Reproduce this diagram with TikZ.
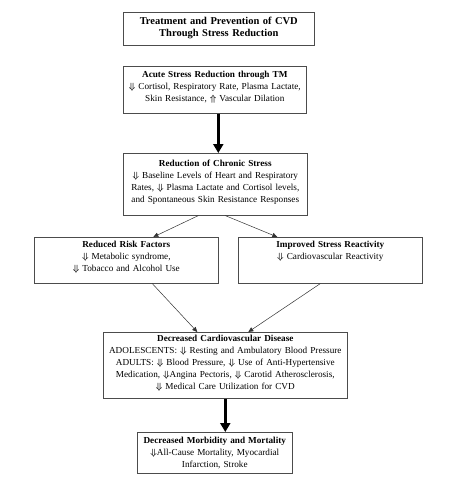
\documentclass[tikz,border=0pt]{standalone}
\usepackage{fontspec}
\setmainfont{Liberation Serif}
\usepackage{amsmath, amssymb}
\usetikzlibrary{arrows.meta, positioning, calc}

\newcommand{\dnarr}{{\boldmath$\Downarrow$}}
\newcommand{\uparr}{{\boldmath$\Uparrow$}}

\begin{document}
\begin{tikzpicture}[x=1pt, y=-1pt,
    box/.style={draw=black!70, line width=0.6pt, align=center, anchor=north west,
      inner sep=0pt, font=\fontsize{9.2}{12}\selectfont},
    bigarrow/.style={line width=2.4pt, -{Triangle[length=9pt,width=10pt]}},
    thinarrow/.style={line width=0.5pt, black!80, -{Triangle[length=5pt,width=4.5pt]}}]
    \useasboundingbox (0,0) rectangle (450,488);

    % Boxes
    \node[box, text width=191pt, text height=12.3pt, text depth=20.7pt,
      font=\fontsize{10.5}{12}\selectfont\bfseries] (title) at (123,12)
      {Treatment and Prevention of CVD\\Through Stress Reduction};

    \node[box, text width=183pt, text height=11pt, text depth=36pt] (acute) at (123,66)
      {\textbf{Acute Stress Reduction through TM}\\
       \dnarr{} Cortisol, Respiratory Rate, Plasma Lactate,\\
       Skin Resistance, \uparr{} Vascular Dilation};

    \node[box, text width=184pt, text height=13.3pt, text depth=48.7pt] (chronic) at (123,153)
      {\textbf{Reduction of Chronic Stress}\\
       \dnarr{} Baseline Levels of Heart and Respiratory\\
       Rates, \dnarr{} Plasma Lactate and Cortisol levels,\\
       and Spontaneous Skin Resistance Responses};

    \node[box, text width=184pt, text height=10.6pt, text depth=35.4pt] (risk) at (34,237)
      {\textbf{Reduced Risk Factors}\\
       \dnarr{} Metabolic syndrome,\\
       \dnarr{} Tobacco and Alcohol Use};

    \node[box, text width=184pt, text height=10.6pt, text depth=35.4pt] (react) at (238,237)
      {\textbf{Improved Stress Reactivity}\\
       \dnarr{} Cardiovascular Reactivity};

    \node[box, text width=244pt, text height=9pt, text depth=57pt] (cvd) at (103,332)
      {\textbf{Decreased Cardiovascular Disease}\\
       ADOLESCENTS: \dnarr{} Resting and Ambulatory Blood Pressure\\
       ADULTS: \dnarr{} Blood Pressure, \dnarr{} Use of Anti-Hypertensive\\
       Medication, \dnarr{}Angina Pectoris, \dnarr{} Carotid Atherosclerosis,\\
       \dnarr{} Medical Care Utilization for CVD};

    \node[box, text width=155pt, text height=11.3pt, text depth=29.7pt] (mort) at (137,432)
      {\textbf{Decreased Morbidity and Mortality}\\
       \dnarr{}All-Cause Mortality, Myocardial\\
       Infarction, Stroke};

    % Arrows
    \draw[bigarrow] ([xshift=3.5pt]acute.south) -- ([xshift=3pt]chronic.north);
    \draw[thinarrow] ([xshift=-17pt]chronic.south) -- ([xshift=27pt]risk.north);
    \draw[thinarrow] ([xshift=10pt]chronic.south) -- ([xshift=-53pt]react.north);
    \draw[thinarrow] ([xshift=26pt]risk.south) -- ([xshift=-28pt]cvd.north);
    \draw[thinarrow] ([xshift=-10pt]react.south) -- ([xshift=23pt]cvd.north);
    \draw[bigarrow] (cvd.south) -- ([xshift=10.5pt]mort.north);
\end{tikzpicture}
\end{document}
